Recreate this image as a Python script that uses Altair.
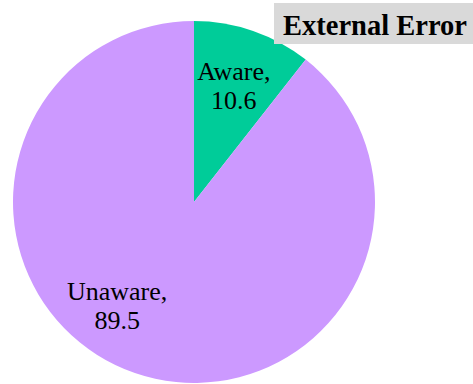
import altair as alt
import pandas as pd

categories = ["Aware", "Unaware"]
values = [10.6, 89.5]
colors = ["#00CC99", "#CC99FF"]
order = [0, 1]

df = pd.DataFrame({
    "category": categories,
    "value": values,
    "order": order,
    "label": [f"{c},\n{v}" for c, v in zip(categories, values)],
})

CX, CY, R = 194, 202, 181

pie = alt.Chart(df).mark_arc(radius=R).encode(
    theta=alt.Theta("value:Q", stack=True),
    order=alt.Order("order:Q"),
    x=alt.value(CX),
    y=alt.value(CY),
    color=alt.Color("category:N", scale=alt.Scale(domain=categories, range=colors), legend=None),
)

text_base = alt.Chart(df).transform_window(
    cum="sum(value)", sort=[alt.SortField("order")]
).transform_calculate(
    mid="datum.cum - datum.value / 2"
).encode(
    theta=alt.Theta("mid:Q", stack=None),
    x=alt.value(CX),
    y=alt.value(CY),
    text="label:N",
)

text_style = dict(font="Liberation Serif", fontSize=26, lineBreak="\n", lineHeight=29,
                  align="center", baseline="middle", color="black", dy=-14.5)

label_aware = text_base.transform_filter(alt.datum.category == "Aware").mark_text(
    radius=122, **text_style)

label_unaware = text_base.transform_filter(alt.datum.category == "Unaware").mark_text(
    radius=130, thetaOffset=0.30, **text_style)

title_box = alt.Chart(pd.DataFrame({"t": ["External Error"]})).mark_rect(color="#D9D9D9").encode(
    x=alt.value(274), x2=alt.value(473), y=alt.value(3), y2=alt.value(44),
)
title_text = alt.Chart(pd.DataFrame({"t": ["External Error"]})).mark_text(
    font="Liberation Serif", fontSize=28.5, fontWeight="bold", align="center", baseline="middle", color="black",
).encode(x=alt.value(375), y=alt.value(26), text="t:N")

chart = alt.layer(
    pie, label_aware, label_unaware, title_box, title_text,
).properties(
    width=473, height=384, padding=0, autosize=alt.AutoSizeParams(type="none"),
).configure_view(stroke=None)

chart.save("out.html", embed_options={"renderer": "svg", "actions": False})
